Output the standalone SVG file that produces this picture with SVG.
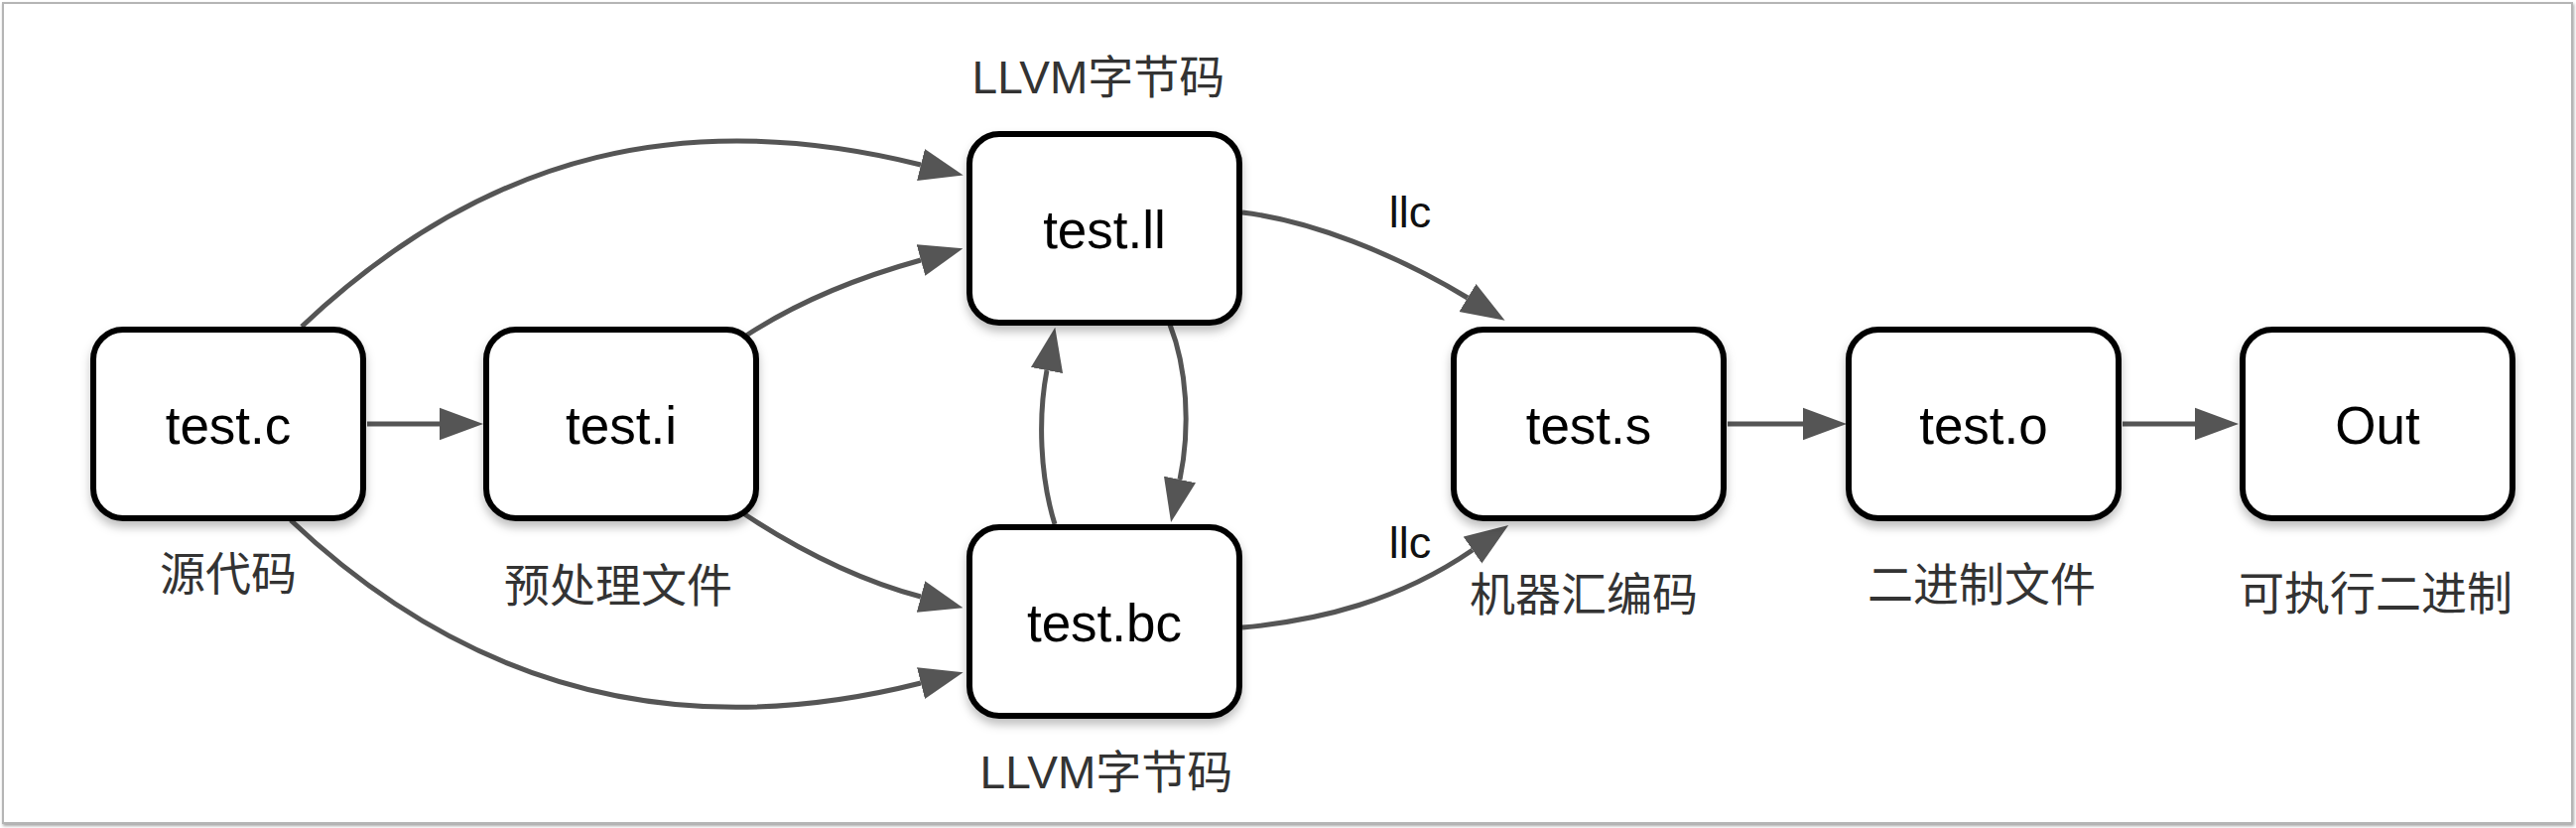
<svg xmlns="http://www.w3.org/2000/svg" width="2596" height="834" viewBox="0 0 2596 834">
<style>
.box{fill:#fff;stroke:#000;stroke-width:6}
.nt{font-family:"Liberation Sans","Noto Sans CJK SC",sans-serif;font-size:53px;fill:#000;text-anchor:middle}
.lb{font-family:"Liberation Sans","Noto Sans CJK SC",sans-serif;font-size:46px;fill:#333;text-anchor:middle}
.ll{font-family:"Liberation Sans",sans-serif;font-size:45px;fill:#111;text-anchor:middle}
.cn{fill:none;stroke:#555;stroke-width:5;marker-end:url(#ah)}
</style>
<defs>
<marker id="ah" markerUnits="userSpaceOnUse" markerWidth="44" markerHeight="34" viewBox="0 0 43 32" refX="0" refY="16" orient="auto">
<path d="M0,0 L43,16 L0,32 Z" fill="#555"/>
</marker>
<filter id="sh" x="-10%" y="-10%" width="120%" height="130%">
<feDropShadow dx="0" dy="6" stdDeviation="5" flood-color="#000" flood-opacity="0.25"/>
</filter>
<filter id="fsh" x="-1%" y="-1%" width="102%" height="104%">
<feDropShadow dx="1" dy="2" stdDeviation="1.5" flood-color="#000" flood-opacity="0.35"/>
</filter>
</defs>
<rect width="2596" height="834" fill="#fff"/>
<rect x="3" y="3" width="2589" height="826" fill="#fff" stroke="#b5b5b5" stroke-width="2" filter="url(#fsh)"/>

<g id="connectors">
<path class="cn" d="M370,427 H443"/>
<path class="cn" d="M1741,427 H1817"/>
<path class="cn" d="M2139,427 H2212"/>
<path class="cn" d="M304,329 C494,149 698,109 928,166"/>
<path class="cn" d="M752,338 C810,300 870,278 928,262"/>
<path class="cn" d="M749,517 C808,556 868,585 928,601"/>
<path class="cn" d="M293,524 C483,704 698,746 928,688"/>
<path class="cn" d="M1063,528 C1048,480 1046,420 1055,373"/>
<path class="cn" d="M1179,327 C1196,370 1200,430 1189,483"/>
<path class="cn" d="M1252,214 C1320,222 1405,255 1479,300"/>
<path class="cn" d="M1252,632 C1330,625 1410,605 1484,554"/>
<text class="ll" x="1421" y="229">llc</text>
<text class="ll" x="1421" y="562">llc</text>
</g>

<g id="n-test-c">
<rect class="box" x="94" y="332" width="272" height="190" rx="30" filter="url(#sh)"/>
<text class="nt" x="230" y="447">test.c</text>
<text class="lb" x="230" y="594">源代码</text>
</g>
<g id="n-test-i">
<rect class="box" x="490" y="332" width="272" height="190" rx="30" filter="url(#sh)"/>
<text class="nt" x="626" y="447">test.i</text>
<text class="lb" x="623" y="606">预处理文件</text>
</g>
<g id="n-test-ll">
<rect class="box" x="977" y="135" width="272" height="190" rx="30" filter="url(#sh)"/>
<text class="nt" x="1113" y="250">test.ll</text>
<text class="lb" x="1107" y="94">LLVM字节码</text>
</g>
<g id="n-test-bc">
<rect class="box" x="977" y="531" width="272" height="190" rx="30" filter="url(#sh)"/>
<text class="nt" x="1113" y="646">test.bc</text>
<text class="lb" x="1115" y="794">LLVM字节码</text>
</g>
<g id="n-test-s">
<rect class="box" x="1465" y="332" width="272" height="190" rx="30" filter="url(#sh)"/>
<text class="nt" x="1601" y="447">test.s</text>
<text class="lb" x="1596" y="615">机器汇编码</text>
</g>
<g id="n-test-o">
<rect class="box" x="1863" y="332" width="272" height="190" rx="30" filter="url(#sh)"/>
<text class="nt" x="1999" y="447">test.o</text>
<text class="lb" x="1997" y="605">二进制文件</text>
</g>
<g id="n-out">
<rect class="box" x="2260" y="332" width="272" height="190" rx="30" filter="url(#sh)"/>
<text class="nt" x="2396" y="447">Out</text>
<text class="lb" x="2394" y="614">可执行二进制</text>
</g>
</svg>
